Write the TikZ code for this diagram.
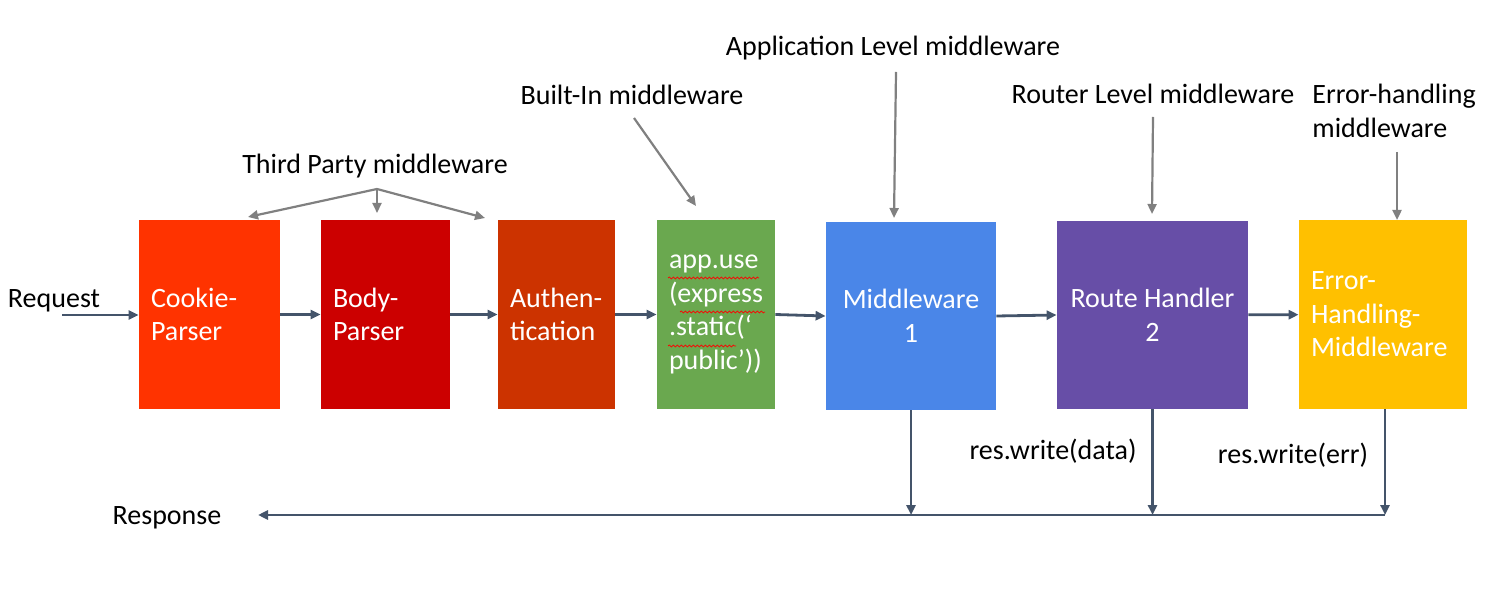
\documentclass[tikz,border=0pt]{standalone}
\usepackage{fontspec}
\setmainfont{Carlito}
\usetikzlibrary{arrows.meta,decorations.pathmorphing}
\definecolor{cookiec}{HTML}{FF3300}
\definecolor{bodyc}{HTML}{CC0000}
\definecolor{authc}{HTML}{CC3300}
\definecolor{appc}{HTML}{6AA84F}
\definecolor{mwc}{HTML}{4A86E8}
\definecolor{routec}{HTML}{674EA7}
\definecolor{errc}{HTML}{FFC000}
\definecolor{flowc}{HTML}{44546A}
\definecolor{grayc}{HTML}{808080}
\begin{document}
\begin{tikzpicture}[x=0.5pt,y=-0.5pt,
  font=\fontsize{14}{16.8}\selectfont,
  box/.style={rectangle, draw=none, text=white, inner xsep=6pt, inner ysep=0pt, align=left},
  cbox/.style={rectangle, draw=none, text=white, inner sep=0pt, align=center},
  lbl/.style={inner sep=0pt, text=black},
  flow/.style={draw=flowc, line width=1.4pt, -{Triangle[length=5pt,width=4.5pt]}},
  garrow/.style={draw=grayc, line width=1.1pt, -{Triangle[length=5pt,width=4.5pt]}},
  spell/.style={draw=red, line width=0.35pt, decorate, decoration={snake, segment length=2pt, amplitude=0.5pt}}]
\useasboundingbox (0,0) rectangle (1503,592);

% boxes
\node[box, fill=cookiec, text width=58.5pt, minimum height=94.5pt] (cookie) at (209.5,314.5) {Cookie-\\Parser};
\node[box, fill=bodyc, text width=52.5pt, minimum height=94.5pt] (body) at (385.5,314.5) {Body-\\Parser};
\node[box, fill=authc, text width=46.5pt, minimum height=94.5pt] (auth) at (556.5,314.5) {Authen-\\tication};
\node[box, fill=appc, text width=47pt, minimum height=94.5pt] (app) at (716,314.5) {\raisebox{-1.5pt}{\parbox{47pt}{app.use\\(express\\.static(‘\\public’))}}};
\node[cbox, fill=mwc, minimum width=85pt, minimum height=94pt] (mw) at (911,316) {Middleware\\1};
\node[cbox, fill=routec, minimum width=95.5pt, minimum height=94pt] (route) at (1152.5,315) {Route Handler\\2};
\node[box, fill=errc, text width=72pt, minimum height=94.5pt] (err) at (1383,314.5) {Error-\\Handling-\\Middleware};

% spell-check underlines
\draw[spell] (668,278) -- (759,278);
\draw[spell] (680,312) -- (765,312);
\draw[spell] (668,346) -- (736,346);

% labels
\node[lbl] (req) at (54,301) {Request};
\node[lbl] (resp) at (167,518) {Response};
\node[lbl] (third) at (375,166) {Third Party middleware};
\node[lbl] (builtin) at (632,95) {Built-In middleware};
\node[lbl] (applvl) at (893,48) {Application Level middleware};
\node[lbl] (routerlvl) at (1153,94) {Router Level middleware};
\node[lbl, anchor=west, align=left] (errlvl) at (1312,111) {Error-handling\\middleware};
\node[lbl] (rwdata) at (1053,451) {res.write(data)};
\node[lbl] (rwerr) at (1293,455) {res.write(err)};

% request flow
\coordinate (reqstart) at (62,315);
\draw[flow] (reqstart) -- (cookie.west |- reqstart);
\draw[flow] (cookie) -- (body);
\draw[flow] (body) -- (auth);
\draw[flow] (auth) -- (app);
\draw[flow] (app.east) -- (mw.west);
\draw[flow] (mw.east) -- (route.west);
\draw[flow] (route) -- (err);

% response flow
\coordinate (e1) at (1385,515);
\coordinate (respend) at (258,515);
\draw[flow] (err.south -| e1) -- (e1);
\draw[flow] (e1) -- (respend);
\draw[flow] (mw.south) -- (mw.south |- e1);
\draw[flow] (route.south) -- (route.south |- e1);

% middleware type arrows
\coordinate (tp) at (377,189);
\coordinate (tpl) at (248,217);
\coordinate (tpm) at (377,213);
\coordinate (tpr) at (485,218);
\draw[garrow] (tp) -- (tpl);
\draw[garrow] (tp) -- (tpm);
\draw[garrow] (tp) -- (tpr);
\coordinate (bis) at (634,118);
\coordinate (bie) at (696,206);
\draw[garrow] (bis) -- (bie);
\coordinate (als) at (896,72);
\coordinate (ale) at (894,218);
\draw[garrow] (als) -- (ale);
\coordinate (rls) at (1153,117);
\coordinate (rle) at (1152,214);
\draw[garrow] (rls) -- (rle);
\coordinate (ehs) at (1397,152);
\coordinate (ehe) at (1397,220);
\draw[garrow] (ehs) -- (ehe);
\end{tikzpicture}
\end{document}
